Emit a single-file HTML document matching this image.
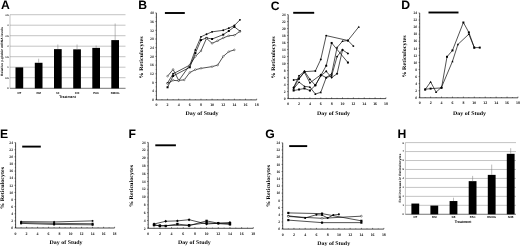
<!DOCTYPE html>
<html><head><meta charset="utf-8"><title>Figure</title>
<style>html,body{margin:0;padding:0;background:#fff}svg{display:block}</style></head>
<body><svg width="520" height="246" viewBox="0 0 520 246">
<rect width="520" height="246" fill="#fff"/>
<g text-rendering="geometricPrecision" filter="url(#bl)">
<text x="0.90" y="9.10" font-family='"Liberation Sans", sans-serif' font-size="12.2" font-weight="bold" text-anchor="start" fill="#000" opacity="1">A</text>
<line x1="10" x2="125.5" y1="14.70" y2="14.70" stroke="#aaa" stroke-width="0.7"/>
<text x="8.70" y="15.60" font-family='"Liberation Sans", sans-serif' font-size="2.5" font-weight="bold" text-anchor="end" fill="#000" opacity="1">3.5</text>
<line x1="10" x2="125.5" y1="25.20" y2="25.20" stroke="#aaa" stroke-width="0.7"/>
<text x="8.70" y="26.10" font-family='"Liberation Sans", sans-serif' font-size="2.5" font-weight="bold" text-anchor="end" fill="#000" opacity="1">3</text>
<line x1="10" x2="125.5" y1="35.70" y2="35.70" stroke="#aaa" stroke-width="0.7"/>
<text x="8.70" y="36.60" font-family='"Liberation Sans", sans-serif' font-size="2.5" font-weight="bold" text-anchor="end" fill="#000" opacity="1">2.5</text>
<line x1="10" x2="125.5" y1="46.20" y2="46.20" stroke="#aaa" stroke-width="0.7"/>
<text x="8.70" y="47.10" font-family='"Liberation Sans", sans-serif' font-size="2.5" font-weight="bold" text-anchor="end" fill="#000" opacity="1">2</text>
<line x1="10" x2="125.5" y1="56.70" y2="56.70" stroke="#aaa" stroke-width="0.7"/>
<text x="8.70" y="57.60" font-family='"Liberation Sans", sans-serif' font-size="2.5" font-weight="bold" text-anchor="end" fill="#000" opacity="1">1.5</text>
<line x1="10" x2="125.5" y1="67.20" y2="67.20" stroke="#aaa" stroke-width="0.7"/>
<text x="8.70" y="68.10" font-family='"Liberation Sans", sans-serif' font-size="2.5" font-weight="bold" text-anchor="end" fill="#000" opacity="1">1</text>
<line x1="10" x2="125.5" y1="77.70" y2="77.70" stroke="#aaa" stroke-width="0.7"/>
<text x="8.70" y="78.60" font-family='"Liberation Sans", sans-serif' font-size="2.5" font-weight="bold" text-anchor="end" fill="#000" opacity="1">0.5</text>
<line x1="10" x2="125.5" y1="88.20" y2="88.20" stroke="#aaa" stroke-width="0.7"/>
<text x="8.70" y="89.10" font-family='"Liberation Sans", sans-serif' font-size="2.5" font-weight="bold" text-anchor="end" fill="#000" opacity="1">0</text>
<line x1="10" x2="10" y1="14.70" y2="88.40" stroke="#8a8a8a" stroke-width="0.5"/>
<line x1="10" x2="125.5" y1="88.40" y2="88.40" stroke="#555" stroke-width="0.6"/>
<rect x="15.50" y="67.40" width="7.7" height="21.00" fill="#000"/>
<text x="19.35" y="93.60" font-family='"Liberation Sans", sans-serif' font-size="2.8" font-weight="bold" text-anchor="middle" fill="#000" opacity="1">NT</text>
<rect x="34.80" y="62.78" width="7.7" height="25.62" fill="#000"/>
<line x1="38.65" x2="38.65" y1="58.70" y2="62.78" stroke="#777" stroke-width="0.5"/>
<text x="38.65" y="93.60" font-family='"Liberation Sans", sans-serif' font-size="2.8" font-weight="bold" text-anchor="middle" fill="#000" opacity="1">DM</text>
<rect x="54.00" y="49.13" width="7.7" height="39.27" fill="#000"/>
<line x1="57.85" x2="57.85" y1="44.50" y2="49.13" stroke="#777" stroke-width="0.5"/>
<text x="57.85" y="93.60" font-family='"Liberation Sans", sans-serif' font-size="2.8" font-weight="bold" text-anchor="middle" fill="#000" opacity="1">50</text>
<rect x="73.20" y="49.34" width="7.7" height="39.06" fill="#000"/>
<line x1="77.05" x2="77.05" y1="44.50" y2="49.34" stroke="#777" stroke-width="0.5"/>
<text x="77.05" y="93.60" font-family='"Liberation Sans", sans-serif' font-size="2.8" font-weight="bold" text-anchor="middle" fill="#000" opacity="1">100</text>
<rect x="92.30" y="47.87" width="7.7" height="40.53" fill="#000"/>
<line x1="96.15" x2="96.15" y1="45.50" y2="47.87" stroke="#777" stroke-width="0.5"/>
<text x="96.15" y="93.60" font-family='"Liberation Sans", sans-serif' font-size="2.8" font-weight="bold" text-anchor="middle" fill="#000" opacity="1">PAC</text>
<rect x="111.30" y="40.10" width="7.7" height="48.30" fill="#000"/>
<line x1="115.15" x2="115.15" y1="23.50" y2="40.10" stroke="#777" stroke-width="0.5"/>
<text x="115.15" y="93.60" font-family='"Liberation Sans", sans-serif' font-size="2.8" font-weight="bold" text-anchor="middle" fill="#000" opacity="1">DMOG</text>
<text x="67.50" y="97.60" font-family='"Liberation Sans", sans-serif' font-size="3.5" font-weight="bold" text-anchor="middle" fill="#000" opacity="1">Treatment</text>
<text x="3.15" y="51.50" font-family='"Liberation Sans", sans-serif' font-size="3.2" font-weight="bold" text-anchor="middle" fill="#000" opacity="1" transform="rotate(-90 3.15 51.50)" textLength="48.9" lengthAdjust="spacingAndGlyphs">Relative γ-globin mRNA levels</text>
<text x="397.40" y="137.70" font-family='"Liberation Sans", sans-serif' font-size="12.2" font-weight="bold" text-anchor="start" fill="#000" opacity="1">H</text>
<line x1="405.4" x2="516" y1="142.60" y2="142.60" stroke="#aaa" stroke-width="0.7"/>
<text x="403.80" y="143.50" font-family='"Liberation Sans", sans-serif' font-size="2.5" font-weight="bold" text-anchor="end" fill="#000" opacity="1">8</text>
<line x1="405.4" x2="516" y1="151.56" y2="151.56" stroke="#aaa" stroke-width="0.7"/>
<text x="403.80" y="152.46" font-family='"Liberation Sans", sans-serif' font-size="2.5" font-weight="bold" text-anchor="end" fill="#000" opacity="1">7</text>
<line x1="405.4" x2="516" y1="160.52" y2="160.52" stroke="#aaa" stroke-width="0.7"/>
<text x="403.80" y="161.42" font-family='"Liberation Sans", sans-serif' font-size="2.5" font-weight="bold" text-anchor="end" fill="#000" opacity="1">6</text>
<line x1="405.4" x2="516" y1="169.48" y2="169.48" stroke="#aaa" stroke-width="0.7"/>
<text x="403.80" y="170.38" font-family='"Liberation Sans", sans-serif' font-size="2.5" font-weight="bold" text-anchor="end" fill="#000" opacity="1">5</text>
<line x1="405.4" x2="516" y1="178.44" y2="178.44" stroke="#aaa" stroke-width="0.7"/>
<text x="403.80" y="179.34" font-family='"Liberation Sans", sans-serif' font-size="2.5" font-weight="bold" text-anchor="end" fill="#000" opacity="1">4</text>
<line x1="405.4" x2="516" y1="187.40" y2="187.40" stroke="#aaa" stroke-width="0.7"/>
<text x="403.80" y="188.30" font-family='"Liberation Sans", sans-serif' font-size="2.5" font-weight="bold" text-anchor="end" fill="#000" opacity="1">3</text>
<line x1="405.4" x2="516" y1="196.36" y2="196.36" stroke="#aaa" stroke-width="0.7"/>
<text x="403.80" y="197.26" font-family='"Liberation Sans", sans-serif' font-size="2.5" font-weight="bold" text-anchor="end" fill="#000" opacity="1">2</text>
<line x1="405.4" x2="516" y1="205.32" y2="205.32" stroke="#aaa" stroke-width="0.7"/>
<text x="403.80" y="206.22" font-family='"Liberation Sans", sans-serif' font-size="2.5" font-weight="bold" text-anchor="end" fill="#000" opacity="1">1</text>
<line x1="405.4" x2="516" y1="214.28" y2="214.28" stroke="#aaa" stroke-width="0.7"/>
<text x="403.80" y="215.18" font-family='"Liberation Sans", sans-serif' font-size="2.5" font-weight="bold" text-anchor="end" fill="#000" opacity="1">0</text>
<line x1="405.4" x2="405.4" y1="142.60" y2="214.30" stroke="#8a8a8a" stroke-width="0.5"/>
<line x1="405.4" x2="516" y1="214.30" y2="214.30" stroke="#555" stroke-width="0.6"/>
<rect x="411.40" y="203.55" width="7.8" height="10.75" fill="#000"/>
<text x="415.30" y="218.30" font-family='"Liberation Sans", sans-serif' font-size="2.8" font-weight="bold" text-anchor="middle" fill="#000" opacity="1">NT</text>
<rect x="430.40" y="205.61" width="7.8" height="8.69" fill="#000"/>
<text x="434.30" y="218.30" font-family='"Liberation Sans", sans-serif' font-size="2.8" font-weight="bold" text-anchor="middle" fill="#000" opacity="1">DM</text>
<rect x="449.60" y="201.04" width="7.8" height="13.26" fill="#000"/>
<line x1="453.50" x2="453.50" y1="197.70" y2="201.04" stroke="#777" stroke-width="0.5"/>
<text x="453.50" y="218.30" font-family='"Liberation Sans", sans-serif' font-size="2.8" font-weight="bold" text-anchor="middle" fill="#000" opacity="1">SB</text>
<rect x="468.70" y="181.15" width="7.8" height="33.15" fill="#000"/>
<line x1="472.60" x2="472.60" y1="175.90" y2="181.15" stroke="#777" stroke-width="0.5"/>
<text x="472.60" y="218.30" font-family='"Liberation Sans", sans-serif' font-size="2.8" font-weight="bold" text-anchor="middle" fill="#000" opacity="1">PAC</text>
<rect x="487.80" y="174.88" width="7.8" height="39.42" fill="#000"/>
<line x1="491.70" x2="491.70" y1="164.60" y2="174.88" stroke="#777" stroke-width="0.5"/>
<text x="491.70" y="218.30" font-family='"Liberation Sans", sans-serif' font-size="2.8" font-weight="bold" text-anchor="middle" fill="#000" opacity="1">DMOG</text>
<rect x="506.80" y="153.82" width="7.8" height="60.48" fill="#000"/>
<line x1="510.70" x2="510.70" y1="148.20" y2="153.82" stroke="#777" stroke-width="0.5"/>
<text x="510.70" y="218.30" font-family='"Liberation Sans", sans-serif' font-size="2.8" font-weight="bold" text-anchor="middle" fill="#000" opacity="1">SHB</text>
<text x="463.00" y="223.40" font-family='"Liberation Sans", sans-serif' font-size="3.5" font-weight="bold" text-anchor="middle" fill="#000" opacity="1">Treatment</text>
<text x="400.85" y="178.10" font-family='"Liberation Sans", sans-serif' font-size="3.2" font-weight="bold" text-anchor="middle" fill="#000" opacity="1" transform="rotate(-90 400.85 178.10)" textLength="48.8" lengthAdjust="spacingAndGlyphs">Fold increase in Reticulocytes</text>
<text x="138.20" y="9.20" font-family='"Liberation Sans", sans-serif' font-size="12.2" font-weight="bold" text-anchor="start" fill="#000" opacity="1">B</text>
<line x1="156.40" x2="156.40" y1="12.90" y2="99.90" stroke="#000" stroke-width="0.7"/>
<line x1="156.40" x2="256.66" y1="99.90" y2="99.90" stroke="#000" stroke-width="0.7"/>
<line x1="155.30" x2="156.40" y1="99.90" y2="99.90" stroke="#000" stroke-width="0.5"/>
<text x="153.80" y="101.10" font-family='"Liberation Serif", serif' font-size="3.7" font-weight="bold" text-anchor="end" fill="#111" opacity="1">0</text>
<line x1="155.70" x2="156.40" y1="95.55" y2="95.55" stroke="#000" stroke-width="0.4"/>
<line x1="155.30" x2="156.40" y1="91.20" y2="91.20" stroke="#000" stroke-width="0.5"/>
<text x="153.80" y="92.40" font-family='"Liberation Serif", serif' font-size="3.7" font-weight="bold" text-anchor="end" fill="#111" opacity="1">4</text>
<line x1="155.70" x2="156.40" y1="86.85" y2="86.85" stroke="#000" stroke-width="0.4"/>
<line x1="155.30" x2="156.40" y1="82.50" y2="82.50" stroke="#000" stroke-width="0.5"/>
<text x="153.80" y="83.70" font-family='"Liberation Serif", serif' font-size="3.7" font-weight="bold" text-anchor="end" fill="#111" opacity="1">8</text>
<line x1="155.70" x2="156.40" y1="78.15" y2="78.15" stroke="#000" stroke-width="0.4"/>
<line x1="155.30" x2="156.40" y1="73.80" y2="73.80" stroke="#000" stroke-width="0.5"/>
<text x="153.80" y="75.00" font-family='"Liberation Serif", serif' font-size="3.7" font-weight="bold" text-anchor="end" fill="#111" opacity="1">12</text>
<line x1="155.70" x2="156.40" y1="69.45" y2="69.45" stroke="#000" stroke-width="0.4"/>
<line x1="155.30" x2="156.40" y1="65.10" y2="65.10" stroke="#000" stroke-width="0.5"/>
<text x="153.80" y="66.30" font-family='"Liberation Serif", serif' font-size="3.7" font-weight="bold" text-anchor="end" fill="#111" opacity="1">16</text>
<line x1="155.70" x2="156.40" y1="60.75" y2="60.75" stroke="#000" stroke-width="0.4"/>
<line x1="155.30" x2="156.40" y1="56.40" y2="56.40" stroke="#000" stroke-width="0.5"/>
<text x="153.80" y="57.60" font-family='"Liberation Serif", serif' font-size="3.7" font-weight="bold" text-anchor="end" fill="#111" opacity="1">20</text>
<line x1="155.70" x2="156.40" y1="52.05" y2="52.05" stroke="#000" stroke-width="0.4"/>
<line x1="155.30" x2="156.40" y1="47.70" y2="47.70" stroke="#000" stroke-width="0.5"/>
<text x="153.80" y="48.90" font-family='"Liberation Serif", serif' font-size="3.7" font-weight="bold" text-anchor="end" fill="#111" opacity="1">24</text>
<line x1="155.70" x2="156.40" y1="43.35" y2="43.35" stroke="#000" stroke-width="0.4"/>
<line x1="155.30" x2="156.40" y1="39.00" y2="39.00" stroke="#000" stroke-width="0.5"/>
<text x="153.80" y="40.20" font-family='"Liberation Serif", serif' font-size="3.7" font-weight="bold" text-anchor="end" fill="#111" opacity="1">28</text>
<line x1="155.70" x2="156.40" y1="34.65" y2="34.65" stroke="#000" stroke-width="0.4"/>
<line x1="155.30" x2="156.40" y1="30.30" y2="30.30" stroke="#000" stroke-width="0.5"/>
<text x="153.80" y="31.50" font-family='"Liberation Serif", serif' font-size="3.7" font-weight="bold" text-anchor="end" fill="#111" opacity="1">32</text>
<line x1="155.70" x2="156.40" y1="25.95" y2="25.95" stroke="#000" stroke-width="0.4"/>
<line x1="155.30" x2="156.40" y1="21.60" y2="21.60" stroke="#000" stroke-width="0.5"/>
<text x="153.80" y="22.80" font-family='"Liberation Serif", serif' font-size="3.7" font-weight="bold" text-anchor="end" fill="#111" opacity="1">36</text>
<line x1="155.70" x2="156.40" y1="17.25" y2="17.25" stroke="#000" stroke-width="0.4"/>
<line x1="155.30" x2="156.40" y1="12.90" y2="12.90" stroke="#000" stroke-width="0.5"/>
<text x="153.80" y="14.10" font-family='"Liberation Serif", serif' font-size="3.7" font-weight="bold" text-anchor="end" fill="#111" opacity="1">40</text>
<line x1="156.40" x2="156.40" y1="99.90" y2="98.70" stroke="#000" stroke-width="0.5"/>
<text x="156.40" y="105.60" font-family='"Liberation Serif", serif' font-size="3.9" font-weight="bold" text-anchor="middle" fill="#111" opacity="1">0</text>
<line x1="161.97" x2="161.97" y1="99.90" y2="99.10" stroke="#000" stroke-width="0.4"/>
<line x1="167.54" x2="167.54" y1="99.90" y2="98.70" stroke="#000" stroke-width="0.5"/>
<text x="167.54" y="105.60" font-family='"Liberation Serif", serif' font-size="3.9" font-weight="bold" text-anchor="middle" fill="#111" opacity="1">2</text>
<line x1="173.11" x2="173.11" y1="99.90" y2="99.10" stroke="#000" stroke-width="0.4"/>
<line x1="178.68" x2="178.68" y1="99.90" y2="98.70" stroke="#000" stroke-width="0.5"/>
<text x="178.68" y="105.60" font-family='"Liberation Serif", serif' font-size="3.9" font-weight="bold" text-anchor="middle" fill="#111" opacity="1">4</text>
<line x1="184.25" x2="184.25" y1="99.90" y2="99.10" stroke="#000" stroke-width="0.4"/>
<line x1="189.82" x2="189.82" y1="99.90" y2="98.70" stroke="#000" stroke-width="0.5"/>
<text x="189.82" y="105.60" font-family='"Liberation Serif", serif' font-size="3.9" font-weight="bold" text-anchor="middle" fill="#111" opacity="1">6</text>
<line x1="195.39" x2="195.39" y1="99.90" y2="99.10" stroke="#000" stroke-width="0.4"/>
<line x1="200.96" x2="200.96" y1="99.90" y2="98.70" stroke="#000" stroke-width="0.5"/>
<text x="200.96" y="105.60" font-family='"Liberation Serif", serif' font-size="3.9" font-weight="bold" text-anchor="middle" fill="#111" opacity="1">8</text>
<line x1="206.53" x2="206.53" y1="99.90" y2="99.10" stroke="#000" stroke-width="0.4"/>
<line x1="212.10" x2="212.10" y1="99.90" y2="98.70" stroke="#000" stroke-width="0.5"/>
<text x="212.10" y="105.60" font-family='"Liberation Serif", serif' font-size="3.9" font-weight="bold" text-anchor="middle" fill="#111" opacity="1">10</text>
<line x1="217.67" x2="217.67" y1="99.90" y2="99.10" stroke="#000" stroke-width="0.4"/>
<line x1="223.24" x2="223.24" y1="99.90" y2="98.70" stroke="#000" stroke-width="0.5"/>
<text x="223.24" y="105.60" font-family='"Liberation Serif", serif' font-size="3.9" font-weight="bold" text-anchor="middle" fill="#111" opacity="1">12</text>
<line x1="228.81" x2="228.81" y1="99.90" y2="99.10" stroke="#000" stroke-width="0.4"/>
<line x1="234.38" x2="234.38" y1="99.90" y2="98.70" stroke="#000" stroke-width="0.5"/>
<text x="234.38" y="105.60" font-family='"Liberation Serif", serif' font-size="3.9" font-weight="bold" text-anchor="middle" fill="#111" opacity="1">14</text>
<line x1="239.95" x2="239.95" y1="99.90" y2="99.10" stroke="#000" stroke-width="0.4"/>
<line x1="245.52" x2="245.52" y1="99.90" y2="98.70" stroke="#000" stroke-width="0.5"/>
<text x="245.52" y="105.60" font-family='"Liberation Serif", serif' font-size="3.9" font-weight="bold" text-anchor="middle" fill="#111" opacity="1">16</text>
<line x1="251.09" x2="251.09" y1="99.90" y2="99.10" stroke="#000" stroke-width="0.4"/>
<line x1="256.66" x2="256.66" y1="99.90" y2="98.70" stroke="#000" stroke-width="0.5"/>
<text x="256.66" y="105.60" font-family='"Liberation Serif", serif' font-size="3.9" font-weight="bold" text-anchor="middle" fill="#111" opacity="1">18</text>
<text x="202.00" y="114.50" font-family='"Liberation Serif", serif' font-size="5.5" font-weight="bold" text-anchor="middle" fill="#000" opacity="1" textLength="32.8" lengthAdjust="spacingAndGlyphs">Day of Study</text>
<text x="142.90" y="57.40" font-family='"Liberation Serif", serif' font-size="5.5" font-weight="bold" text-anchor="middle" fill="#000" opacity="1" transform="rotate(-90 142.90 57.40)" textLength="42" lengthAdjust="spacingAndGlyphs">% Reticulocytes</text>
<line x1="164.9" x2="184.8" y1="13.0" y2="13.0" stroke="#000" stroke-width="1.9"/>
<polyline fill="none" stroke="#000" stroke-width="0.68" points="167.54,82.94 173.11,73.80 189.82,65.10 195.39,49.88 200.96,36.83 206.53,34.22 212.10,31.82 223.24,30.30 228.81,28.13 234.38,25.52 239.95,19.86"/>
<circle cx="167.54" cy="82.94" r="0.94" fill="#000"/>
<circle cx="173.11" cy="73.80" r="0.94" fill="#000"/>
<circle cx="189.82" cy="65.10" r="0.94" fill="#000"/>
<circle cx="195.39" cy="49.88" r="0.94" fill="#000"/>
<circle cx="200.96" cy="36.83" r="0.94" fill="#000"/>
<circle cx="206.53" cy="34.22" r="0.94" fill="#000"/>
<circle cx="212.10" cy="31.82" r="0.94" fill="#000"/>
<circle cx="223.24" cy="30.30" r="0.94" fill="#000"/>
<circle cx="228.81" cy="28.13" r="0.94" fill="#000"/>
<circle cx="234.38" cy="25.52" r="0.94" fill="#000"/>
<circle cx="239.95" cy="19.86" r="0.94" fill="#000"/>
<polyline fill="none" stroke="#000" stroke-width="0.68" points="167.54,87.29 173.11,75.98 189.82,67.28 195.39,53.14 200.96,40.09 206.53,37.91 212.10,39.00 223.24,34.65 228.81,30.95 234.38,26.82 239.95,31.17"/>
<rect x="166.55" y="86.30" width="1.98" height="1.98" fill="#000"/>
<rect x="172.12" y="74.99" width="1.98" height="1.98" fill="#000"/>
<rect x="188.83" y="66.29" width="1.98" height="1.98" fill="#000"/>
<rect x="194.40" y="52.15" width="1.98" height="1.98" fill="#000"/>
<rect x="199.97" y="39.10" width="1.98" height="1.98" fill="#000"/>
<rect x="205.54" y="36.92" width="1.98" height="1.98" fill="#000"/>
<rect x="211.11" y="38.01" width="1.98" height="1.98" fill="#000"/>
<rect x="222.25" y="33.66" width="1.98" height="1.98" fill="#000"/>
<rect x="227.82" y="29.96" width="1.98" height="1.98" fill="#000"/>
<rect x="233.39" y="25.83" width="1.98" height="1.98" fill="#000"/>
<rect x="238.96" y="30.18" width="1.98" height="1.98" fill="#000"/>
<polyline fill="none" stroke="#000" stroke-width="0.68" points="167.54,83.59 173.11,80.33 178.68,80.76 189.82,65.10 195.39,56.40 200.96,50.96 206.53,38.35 212.10,43.35 217.67,40.74 223.24,37.91 228.81,35.74 234.38,35.30 239.95,31.39"/>
<circle cx="167.54" cy="83.59" r="0.83" fill="#fff" stroke="#000" stroke-width="0.4"/>
<circle cx="173.11" cy="80.33" r="0.83" fill="#fff" stroke="#000" stroke-width="0.4"/>
<circle cx="178.68" cy="80.76" r="0.83" fill="#fff" stroke="#000" stroke-width="0.4"/>
<circle cx="189.82" cy="65.10" r="0.83" fill="#fff" stroke="#000" stroke-width="0.4"/>
<circle cx="195.39" cy="56.40" r="0.83" fill="#fff" stroke="#000" stroke-width="0.4"/>
<circle cx="200.96" cy="50.96" r="0.83" fill="#fff" stroke="#000" stroke-width="0.4"/>
<circle cx="206.53" cy="38.35" r="0.83" fill="#fff" stroke="#000" stroke-width="0.4"/>
<circle cx="212.10" cy="43.35" r="0.83" fill="#fff" stroke="#000" stroke-width="0.4"/>
<circle cx="217.67" cy="40.74" r="0.83" fill="#fff" stroke="#000" stroke-width="0.4"/>
<circle cx="223.24" cy="37.91" r="0.83" fill="#fff" stroke="#000" stroke-width="0.4"/>
<circle cx="228.81" cy="35.74" r="0.83" fill="#fff" stroke="#000" stroke-width="0.4"/>
<circle cx="234.38" cy="35.30" r="0.83" fill="#fff" stroke="#000" stroke-width="0.4"/>
<circle cx="239.95" cy="31.39" r="0.83" fill="#fff" stroke="#000" stroke-width="0.4"/>
<polyline fill="none" stroke="#000" stroke-width="0.68" points="167.54,76.19 173.11,69.45 178.68,80.33 184.25,79.89 189.82,72.50 195.39,69.67 200.96,68.36 212.10,66.62 217.67,65.10 223.24,56.40 228.81,51.62 234.38,49.88"/>
<circle cx="167.54" cy="76.19" r="0.83" fill="#fff" stroke="#000" stroke-width="0.4"/>
<circle cx="173.11" cy="69.45" r="0.83" fill="#fff" stroke="#000" stroke-width="0.4"/>
<circle cx="178.68" cy="80.33" r="0.83" fill="#fff" stroke="#000" stroke-width="0.4"/>
<circle cx="184.25" cy="79.89" r="0.83" fill="#fff" stroke="#000" stroke-width="0.4"/>
<circle cx="189.82" cy="72.50" r="0.83" fill="#fff" stroke="#000" stroke-width="0.4"/>
<circle cx="195.39" cy="69.67" r="0.83" fill="#fff" stroke="#000" stroke-width="0.4"/>
<circle cx="200.96" cy="68.36" r="0.83" fill="#fff" stroke="#000" stroke-width="0.4"/>
<circle cx="212.10" cy="66.62" r="0.83" fill="#fff" stroke="#000" stroke-width="0.4"/>
<circle cx="217.67" cy="65.10" r="0.83" fill="#fff" stroke="#000" stroke-width="0.4"/>
<circle cx="223.24" cy="56.40" r="0.83" fill="#fff" stroke="#000" stroke-width="0.4"/>
<circle cx="228.81" cy="51.62" r="0.83" fill="#fff" stroke="#000" stroke-width="0.4"/>
<circle cx="234.38" cy="49.88" r="0.83" fill="#fff" stroke="#000" stroke-width="0.4"/>
<text x="270.70" y="9.50" font-family='"Liberation Sans", sans-serif' font-size="12.2" font-weight="bold" text-anchor="start" fill="#000" opacity="1">C</text>
<line x1="288.20" x2="288.20" y1="14.60" y2="98.60" stroke="#000" stroke-width="0.7"/>
<line x1="288.20" x2="385.94" y1="98.60" y2="98.60" stroke="#000" stroke-width="0.7"/>
<line x1="287.10" x2="288.20" y1="98.60" y2="98.60" stroke="#000" stroke-width="0.5"/>
<text x="285.60" y="99.80" font-family='"Liberation Serif", serif' font-size="3.7" font-weight="bold" text-anchor="end" fill="#111" opacity="1">0</text>
<line x1="287.50" x2="288.20" y1="95.10" y2="95.10" stroke="#000" stroke-width="0.4"/>
<line x1="287.10" x2="288.20" y1="91.60" y2="91.60" stroke="#000" stroke-width="0.5"/>
<text x="285.60" y="92.80" font-family='"Liberation Serif", serif' font-size="3.7" font-weight="bold" text-anchor="end" fill="#111" opacity="1">2</text>
<line x1="287.50" x2="288.20" y1="88.10" y2="88.10" stroke="#000" stroke-width="0.4"/>
<line x1="287.10" x2="288.20" y1="84.60" y2="84.60" stroke="#000" stroke-width="0.5"/>
<text x="285.60" y="85.80" font-family='"Liberation Serif", serif' font-size="3.7" font-weight="bold" text-anchor="end" fill="#111" opacity="1">4</text>
<line x1="287.50" x2="288.20" y1="81.10" y2="81.10" stroke="#000" stroke-width="0.4"/>
<line x1="287.10" x2="288.20" y1="77.60" y2="77.60" stroke="#000" stroke-width="0.5"/>
<text x="285.60" y="78.80" font-family='"Liberation Serif", serif' font-size="3.7" font-weight="bold" text-anchor="end" fill="#111" opacity="1">6</text>
<line x1="287.50" x2="288.20" y1="74.10" y2="74.10" stroke="#000" stroke-width="0.4"/>
<line x1="287.10" x2="288.20" y1="70.60" y2="70.60" stroke="#000" stroke-width="0.5"/>
<text x="285.60" y="71.80" font-family='"Liberation Serif", serif' font-size="3.7" font-weight="bold" text-anchor="end" fill="#111" opacity="1">8</text>
<line x1="287.50" x2="288.20" y1="67.10" y2="67.10" stroke="#000" stroke-width="0.4"/>
<line x1="287.10" x2="288.20" y1="63.60" y2="63.60" stroke="#000" stroke-width="0.5"/>
<text x="285.60" y="64.80" font-family='"Liberation Serif", serif' font-size="3.7" font-weight="bold" text-anchor="end" fill="#111" opacity="1">10</text>
<line x1="287.50" x2="288.20" y1="60.10" y2="60.10" stroke="#000" stroke-width="0.4"/>
<line x1="287.10" x2="288.20" y1="56.60" y2="56.60" stroke="#000" stroke-width="0.5"/>
<text x="285.60" y="57.80" font-family='"Liberation Serif", serif' font-size="3.7" font-weight="bold" text-anchor="end" fill="#111" opacity="1">12</text>
<line x1="287.50" x2="288.20" y1="53.10" y2="53.10" stroke="#000" stroke-width="0.4"/>
<line x1="287.10" x2="288.20" y1="49.60" y2="49.60" stroke="#000" stroke-width="0.5"/>
<text x="285.60" y="50.80" font-family='"Liberation Serif", serif' font-size="3.7" font-weight="bold" text-anchor="end" fill="#111" opacity="1">14</text>
<line x1="287.50" x2="288.20" y1="46.10" y2="46.10" stroke="#000" stroke-width="0.4"/>
<line x1="287.10" x2="288.20" y1="42.60" y2="42.60" stroke="#000" stroke-width="0.5"/>
<text x="285.60" y="43.80" font-family='"Liberation Serif", serif' font-size="3.7" font-weight="bold" text-anchor="end" fill="#111" opacity="1">16</text>
<line x1="287.50" x2="288.20" y1="39.10" y2="39.10" stroke="#000" stroke-width="0.4"/>
<line x1="287.10" x2="288.20" y1="35.60" y2="35.60" stroke="#000" stroke-width="0.5"/>
<text x="285.60" y="36.80" font-family='"Liberation Serif", serif' font-size="3.7" font-weight="bold" text-anchor="end" fill="#111" opacity="1">18</text>
<line x1="287.50" x2="288.20" y1="32.10" y2="32.10" stroke="#000" stroke-width="0.4"/>
<line x1="287.10" x2="288.20" y1="28.60" y2="28.60" stroke="#000" stroke-width="0.5"/>
<text x="285.60" y="29.80" font-family='"Liberation Serif", serif' font-size="3.7" font-weight="bold" text-anchor="end" fill="#111" opacity="1">20</text>
<line x1="287.50" x2="288.20" y1="25.10" y2="25.10" stroke="#000" stroke-width="0.4"/>
<line x1="287.10" x2="288.20" y1="21.60" y2="21.60" stroke="#000" stroke-width="0.5"/>
<text x="285.60" y="22.80" font-family='"Liberation Serif", serif' font-size="3.7" font-weight="bold" text-anchor="end" fill="#111" opacity="1">22</text>
<line x1="287.50" x2="288.20" y1="18.10" y2="18.10" stroke="#000" stroke-width="0.4"/>
<line x1="287.10" x2="288.20" y1="14.60" y2="14.60" stroke="#000" stroke-width="0.5"/>
<text x="285.60" y="15.80" font-family='"Liberation Serif", serif' font-size="3.7" font-weight="bold" text-anchor="end" fill="#111" opacity="1">24</text>
<line x1="288.20" x2="288.20" y1="98.60" y2="97.40" stroke="#000" stroke-width="0.5"/>
<text x="288.20" y="105.40" font-family='"Liberation Serif", serif' font-size="3.9" font-weight="bold" text-anchor="middle" fill="#111" opacity="1">0</text>
<line x1="293.63" x2="293.63" y1="98.60" y2="97.80" stroke="#000" stroke-width="0.4"/>
<line x1="299.06" x2="299.06" y1="98.60" y2="97.40" stroke="#000" stroke-width="0.5"/>
<text x="299.06" y="105.40" font-family='"Liberation Serif", serif' font-size="3.9" font-weight="bold" text-anchor="middle" fill="#111" opacity="1">2</text>
<line x1="304.49" x2="304.49" y1="98.60" y2="97.80" stroke="#000" stroke-width="0.4"/>
<line x1="309.92" x2="309.92" y1="98.60" y2="97.40" stroke="#000" stroke-width="0.5"/>
<text x="309.92" y="105.40" font-family='"Liberation Serif", serif' font-size="3.9" font-weight="bold" text-anchor="middle" fill="#111" opacity="1">4</text>
<line x1="315.35" x2="315.35" y1="98.60" y2="97.80" stroke="#000" stroke-width="0.4"/>
<line x1="320.78" x2="320.78" y1="98.60" y2="97.40" stroke="#000" stroke-width="0.5"/>
<text x="320.78" y="105.40" font-family='"Liberation Serif", serif' font-size="3.9" font-weight="bold" text-anchor="middle" fill="#111" opacity="1">6</text>
<line x1="326.21" x2="326.21" y1="98.60" y2="97.80" stroke="#000" stroke-width="0.4"/>
<line x1="331.64" x2="331.64" y1="98.60" y2="97.40" stroke="#000" stroke-width="0.5"/>
<text x="331.64" y="105.40" font-family='"Liberation Serif", serif' font-size="3.9" font-weight="bold" text-anchor="middle" fill="#111" opacity="1">8</text>
<line x1="337.07" x2="337.07" y1="98.60" y2="97.80" stroke="#000" stroke-width="0.4"/>
<line x1="342.50" x2="342.50" y1="98.60" y2="97.40" stroke="#000" stroke-width="0.5"/>
<text x="342.50" y="105.40" font-family='"Liberation Serif", serif' font-size="3.9" font-weight="bold" text-anchor="middle" fill="#111" opacity="1">10</text>
<line x1="347.93" x2="347.93" y1="98.60" y2="97.80" stroke="#000" stroke-width="0.4"/>
<line x1="353.36" x2="353.36" y1="98.60" y2="97.40" stroke="#000" stroke-width="0.5"/>
<text x="353.36" y="105.40" font-family='"Liberation Serif", serif' font-size="3.9" font-weight="bold" text-anchor="middle" fill="#111" opacity="1">12</text>
<line x1="358.79" x2="358.79" y1="98.60" y2="97.80" stroke="#000" stroke-width="0.4"/>
<line x1="364.22" x2="364.22" y1="98.60" y2="97.40" stroke="#000" stroke-width="0.5"/>
<text x="364.22" y="105.40" font-family='"Liberation Serif", serif' font-size="3.9" font-weight="bold" text-anchor="middle" fill="#111" opacity="1">14</text>
<line x1="369.65" x2="369.65" y1="98.60" y2="97.80" stroke="#000" stroke-width="0.4"/>
<line x1="375.08" x2="375.08" y1="98.60" y2="97.40" stroke="#000" stroke-width="0.5"/>
<text x="375.08" y="105.40" font-family='"Liberation Serif", serif' font-size="3.9" font-weight="bold" text-anchor="middle" fill="#111" opacity="1">16</text>
<line x1="380.51" x2="380.51" y1="98.60" y2="97.80" stroke="#000" stroke-width="0.4"/>
<line x1="385.94" x2="385.94" y1="98.60" y2="97.40" stroke="#000" stroke-width="0.5"/>
<text x="385.94" y="105.40" font-family='"Liberation Serif", serif' font-size="3.9" font-weight="bold" text-anchor="middle" fill="#111" opacity="1">18</text>
<text x="333.50" y="114.50" font-family='"Liberation Serif", serif' font-size="5.5" font-weight="bold" text-anchor="middle" fill="#000" opacity="1" textLength="32.8" lengthAdjust="spacingAndGlyphs">Day of Study</text>
<text x="275.00" y="57.40" font-family='"Liberation Serif", serif' font-size="5.5" font-weight="bold" text-anchor="middle" fill="#000" opacity="1" transform="rotate(-90 275.00 57.40)" textLength="42" lengthAdjust="spacingAndGlyphs">% Reticulocytes</text>
<line x1="293.2" x2="314.2" y1="12.8" y2="12.8" stroke="#000" stroke-width="1.9"/>
<polyline fill="none" stroke="#000" stroke-width="0.68" points="293.63,80.05 299.06,79.00 304.49,71.65 315.35,70.95 320.78,59.40 326.21,35.60 347.93,40.50 353.36,46.10"/>
<circle cx="293.63" cy="80.05" r="0.94" fill="#000"/>
<circle cx="299.06" cy="79.00" r="0.94" fill="#000"/>
<circle cx="304.49" cy="71.65" r="0.94" fill="#000"/>
<circle cx="315.35" cy="70.95" r="0.94" fill="#000"/>
<circle cx="320.78" cy="59.40" r="0.94" fill="#000"/>
<circle cx="326.21" cy="35.60" r="0.94" fill="#000"/>
<circle cx="347.93" cy="40.50" r="0.94" fill="#000"/>
<circle cx="353.36" cy="46.10" r="0.94" fill="#000"/>
<polyline fill="none" stroke="#000" stroke-width="0.68" points="293.63,87.40 299.06,75.85 304.49,71.30 309.92,79.35 315.35,85.30 320.78,75.85 326.21,71.30 331.64,77.60 337.07,73.75 342.50,49.95 347.93,53.45"/>
<path d="M293.63 86.19L294.84 87.40L293.63 88.61L292.42 87.40Z" fill="#000"/>
<path d="M299.06 74.64L300.27 75.85L299.06 77.06L297.85 75.85Z" fill="#000"/>
<path d="M304.49 70.09L305.70 71.30L304.49 72.51L303.28 71.30Z" fill="#000"/>
<path d="M309.92 78.14L311.13 79.35L309.92 80.56L308.71 79.35Z" fill="#000"/>
<path d="M315.35 84.09L316.56 85.30L315.35 86.51L314.14 85.30Z" fill="#000"/>
<path d="M320.78 74.64L321.99 75.85L320.78 77.06L319.57 75.85Z" fill="#000"/>
<path d="M326.21 70.09L327.42 71.30L326.21 72.51L325.00 71.30Z" fill="#000"/>
<path d="M331.64 76.39L332.85 77.60L331.64 78.81L330.43 77.60Z" fill="#000"/>
<path d="M337.07 72.54L338.28 73.75L337.07 74.96L335.86 73.75Z" fill="#000"/>
<path d="M342.50 48.74L343.71 49.95L342.50 51.16L341.29 49.95Z" fill="#000"/>
<path d="M347.93 52.24L349.14 53.45L347.93 54.66L346.72 53.45Z" fill="#000"/>
<polyline fill="none" stroke="#000" stroke-width="0.68" points="293.63,88.80 299.06,82.15 304.49,86.35 309.92,87.05 315.35,94.05 320.78,92.30 326.21,77.60 331.64,73.75 337.07,47.50 342.50,41.20 347.93,40.50 358.79,26.85"/>
<path d="M293.63 87.59L294.73 89.68L292.53 89.68Z" fill="#000"/>
<path d="M299.06 80.94L300.16 83.03L297.96 83.03Z" fill="#000"/>
<path d="M304.49 85.14L305.59 87.23L303.39 87.23Z" fill="#000"/>
<path d="M309.92 85.84L311.02 87.93L308.82 87.93Z" fill="#000"/>
<path d="M315.35 92.84L316.45 94.93L314.25 94.93Z" fill="#000"/>
<path d="M320.78 91.09L321.88 93.18L319.68 93.18Z" fill="#000"/>
<path d="M326.21 76.39L327.31 78.48L325.11 78.48Z" fill="#000"/>
<path d="M331.64 72.54L332.74 74.63L330.54 74.63Z" fill="#000"/>
<path d="M337.07 46.29L338.17 48.38L335.97 48.38Z" fill="#000"/>
<path d="M342.50 39.99L343.60 42.08L341.40 42.08Z" fill="#000"/>
<path d="M347.93 39.29L349.03 41.38L346.83 41.38Z" fill="#000"/>
<path d="M358.79 25.64L359.89 27.73L357.69 27.73Z" fill="#000"/>
<polyline fill="none" stroke="#000" stroke-width="0.68" points="293.63,90.55 299.06,89.50 304.49,88.45 309.92,90.55 315.35,85.30 326.21,65.70 331.64,42.95 347.93,62.55"/>
<rect x="292.64" y="89.56" width="1.98" height="1.98" fill="#000"/>
<rect x="298.07" y="88.51" width="1.98" height="1.98" fill="#000"/>
<rect x="303.50" y="87.46" width="1.98" height="1.98" fill="#000"/>
<rect x="308.93" y="89.56" width="1.98" height="1.98" fill="#000"/>
<rect x="314.36" y="84.31" width="1.98" height="1.98" fill="#000"/>
<rect x="325.22" y="64.71" width="1.98" height="1.98" fill="#000"/>
<rect x="330.65" y="41.96" width="1.98" height="1.98" fill="#000"/>
<rect x="346.94" y="61.56" width="1.98" height="1.98" fill="#000"/>
<polyline fill="none" stroke="#000" stroke-width="0.68" points="293.63,88.10 299.06,78.30 304.49,72.35 309.92,82.85 320.78,74.80 326.21,77.60 331.64,75.85 337.07,56.60 342.50,49.60"/>
<circle cx="293.63" cy="88.10" r="0.94" fill="#000"/>
<circle cx="299.06" cy="78.30" r="0.94" fill="#000"/>
<circle cx="304.49" cy="72.35" r="0.94" fill="#000"/>
<circle cx="309.92" cy="82.85" r="0.94" fill="#000"/>
<circle cx="320.78" cy="74.80" r="0.94" fill="#000"/>
<circle cx="326.21" cy="77.60" r="0.94" fill="#000"/>
<circle cx="331.64" cy="75.85" r="0.94" fill="#000"/>
<circle cx="337.07" cy="56.60" r="0.94" fill="#000"/>
<circle cx="342.50" cy="49.60" r="0.94" fill="#000"/>
<text x="401.30" y="9.20" font-family='"Liberation Sans", sans-serif' font-size="12.2" font-weight="bold" text-anchor="start" fill="#000" opacity="1">D</text>
<line x1="419.70" x2="419.70" y1="12.95" y2="97.80" stroke="#000" stroke-width="0.7"/>
<line x1="419.70" x2="517.98" y1="97.80" y2="97.80" stroke="#000" stroke-width="0.7"/>
<line x1="418.60" x2="419.70" y1="97.80" y2="97.80" stroke="#000" stroke-width="0.5"/>
<text x="417.10" y="99.00" font-family='"Liberation Serif", serif' font-size="3.7" font-weight="bold" text-anchor="end" fill="#111" opacity="1">0</text>
<line x1="419.00" x2="419.70" y1="94.26" y2="94.26" stroke="#000" stroke-width="0.4"/>
<line x1="418.60" x2="419.70" y1="90.73" y2="90.73" stroke="#000" stroke-width="0.5"/>
<text x="417.10" y="91.93" font-family='"Liberation Serif", serif' font-size="3.7" font-weight="bold" text-anchor="end" fill="#111" opacity="1">2</text>
<line x1="419.00" x2="419.70" y1="87.19" y2="87.19" stroke="#000" stroke-width="0.4"/>
<line x1="418.60" x2="419.70" y1="83.66" y2="83.66" stroke="#000" stroke-width="0.5"/>
<text x="417.10" y="84.86" font-family='"Liberation Serif", serif' font-size="3.7" font-weight="bold" text-anchor="end" fill="#111" opacity="1">4</text>
<line x1="419.00" x2="419.70" y1="80.12" y2="80.12" stroke="#000" stroke-width="0.4"/>
<line x1="418.60" x2="419.70" y1="76.59" y2="76.59" stroke="#000" stroke-width="0.5"/>
<text x="417.10" y="77.79" font-family='"Liberation Serif", serif' font-size="3.7" font-weight="bold" text-anchor="end" fill="#111" opacity="1">6</text>
<line x1="419.00" x2="419.70" y1="73.05" y2="73.05" stroke="#000" stroke-width="0.4"/>
<line x1="418.60" x2="419.70" y1="69.52" y2="69.52" stroke="#000" stroke-width="0.5"/>
<text x="417.10" y="70.72" font-family='"Liberation Serif", serif' font-size="3.7" font-weight="bold" text-anchor="end" fill="#111" opacity="1">8</text>
<line x1="419.00" x2="419.70" y1="65.98" y2="65.98" stroke="#000" stroke-width="0.4"/>
<line x1="418.60" x2="419.70" y1="62.45" y2="62.45" stroke="#000" stroke-width="0.5"/>
<text x="417.10" y="63.65" font-family='"Liberation Serif", serif' font-size="3.7" font-weight="bold" text-anchor="end" fill="#111" opacity="1">10</text>
<line x1="419.00" x2="419.70" y1="58.91" y2="58.91" stroke="#000" stroke-width="0.4"/>
<line x1="418.60" x2="419.70" y1="55.38" y2="55.38" stroke="#000" stroke-width="0.5"/>
<text x="417.10" y="56.58" font-family='"Liberation Serif", serif' font-size="3.7" font-weight="bold" text-anchor="end" fill="#111" opacity="1">12</text>
<line x1="419.00" x2="419.70" y1="51.84" y2="51.84" stroke="#000" stroke-width="0.4"/>
<line x1="418.60" x2="419.70" y1="48.30" y2="48.30" stroke="#000" stroke-width="0.5"/>
<text x="417.10" y="49.50" font-family='"Liberation Serif", serif' font-size="3.7" font-weight="bold" text-anchor="end" fill="#111" opacity="1">14</text>
<line x1="419.00" x2="419.70" y1="44.77" y2="44.77" stroke="#000" stroke-width="0.4"/>
<line x1="418.60" x2="419.70" y1="41.23" y2="41.23" stroke="#000" stroke-width="0.5"/>
<text x="417.10" y="42.43" font-family='"Liberation Serif", serif' font-size="3.7" font-weight="bold" text-anchor="end" fill="#111" opacity="1">16</text>
<line x1="419.00" x2="419.70" y1="37.70" y2="37.70" stroke="#000" stroke-width="0.4"/>
<line x1="418.60" x2="419.70" y1="34.16" y2="34.16" stroke="#000" stroke-width="0.5"/>
<text x="417.10" y="35.36" font-family='"Liberation Serif", serif' font-size="3.7" font-weight="bold" text-anchor="end" fill="#111" opacity="1">18</text>
<line x1="419.00" x2="419.70" y1="30.63" y2="30.63" stroke="#000" stroke-width="0.4"/>
<line x1="418.60" x2="419.70" y1="27.09" y2="27.09" stroke="#000" stroke-width="0.5"/>
<text x="417.10" y="28.29" font-family='"Liberation Serif", serif' font-size="3.7" font-weight="bold" text-anchor="end" fill="#111" opacity="1">20</text>
<line x1="419.00" x2="419.70" y1="23.56" y2="23.56" stroke="#000" stroke-width="0.4"/>
<line x1="418.60" x2="419.70" y1="20.02" y2="20.02" stroke="#000" stroke-width="0.5"/>
<text x="417.10" y="21.22" font-family='"Liberation Serif", serif' font-size="3.7" font-weight="bold" text-anchor="end" fill="#111" opacity="1">22</text>
<line x1="419.00" x2="419.70" y1="16.49" y2="16.49" stroke="#000" stroke-width="0.4"/>
<line x1="418.60" x2="419.70" y1="12.95" y2="12.95" stroke="#000" stroke-width="0.5"/>
<text x="417.10" y="14.15" font-family='"Liberation Serif", serif' font-size="3.7" font-weight="bold" text-anchor="end" fill="#111" opacity="1">24</text>
<line x1="419.70" x2="419.70" y1="97.80" y2="96.60" stroke="#000" stroke-width="0.5"/>
<text x="419.70" y="104.40" font-family='"Liberation Serif", serif' font-size="3.9" font-weight="bold" text-anchor="middle" fill="#111" opacity="1">0</text>
<line x1="425.16" x2="425.16" y1="97.80" y2="97.00" stroke="#000" stroke-width="0.4"/>
<line x1="430.62" x2="430.62" y1="97.80" y2="96.60" stroke="#000" stroke-width="0.5"/>
<text x="430.62" y="104.40" font-family='"Liberation Serif", serif' font-size="3.9" font-weight="bold" text-anchor="middle" fill="#111" opacity="1">2</text>
<line x1="436.08" x2="436.08" y1="97.80" y2="97.00" stroke="#000" stroke-width="0.4"/>
<line x1="441.54" x2="441.54" y1="97.80" y2="96.60" stroke="#000" stroke-width="0.5"/>
<text x="441.54" y="104.40" font-family='"Liberation Serif", serif' font-size="3.9" font-weight="bold" text-anchor="middle" fill="#111" opacity="1">4</text>
<line x1="447.00" x2="447.00" y1="97.80" y2="97.00" stroke="#000" stroke-width="0.4"/>
<line x1="452.46" x2="452.46" y1="97.80" y2="96.60" stroke="#000" stroke-width="0.5"/>
<text x="452.46" y="104.40" font-family='"Liberation Serif", serif' font-size="3.9" font-weight="bold" text-anchor="middle" fill="#111" opacity="1">6</text>
<line x1="457.92" x2="457.92" y1="97.80" y2="97.00" stroke="#000" stroke-width="0.4"/>
<line x1="463.38" x2="463.38" y1="97.80" y2="96.60" stroke="#000" stroke-width="0.5"/>
<text x="463.38" y="104.40" font-family='"Liberation Serif", serif' font-size="3.9" font-weight="bold" text-anchor="middle" fill="#111" opacity="1">8</text>
<line x1="468.84" x2="468.84" y1="97.80" y2="97.00" stroke="#000" stroke-width="0.4"/>
<line x1="474.30" x2="474.30" y1="97.80" y2="96.60" stroke="#000" stroke-width="0.5"/>
<text x="474.30" y="104.40" font-family='"Liberation Serif", serif' font-size="3.9" font-weight="bold" text-anchor="middle" fill="#111" opacity="1">10</text>
<line x1="479.76" x2="479.76" y1="97.80" y2="97.00" stroke="#000" stroke-width="0.4"/>
<line x1="485.22" x2="485.22" y1="97.80" y2="96.60" stroke="#000" stroke-width="0.5"/>
<text x="485.22" y="104.40" font-family='"Liberation Serif", serif' font-size="3.9" font-weight="bold" text-anchor="middle" fill="#111" opacity="1">12</text>
<line x1="490.68" x2="490.68" y1="97.80" y2="97.00" stroke="#000" stroke-width="0.4"/>
<line x1="496.14" x2="496.14" y1="97.80" y2="96.60" stroke="#000" stroke-width="0.5"/>
<text x="496.14" y="104.40" font-family='"Liberation Serif", serif' font-size="3.9" font-weight="bold" text-anchor="middle" fill="#111" opacity="1">14</text>
<line x1="501.60" x2="501.60" y1="97.80" y2="97.00" stroke="#000" stroke-width="0.4"/>
<line x1="507.06" x2="507.06" y1="97.80" y2="96.60" stroke="#000" stroke-width="0.5"/>
<text x="507.06" y="104.40" font-family='"Liberation Serif", serif' font-size="3.9" font-weight="bold" text-anchor="middle" fill="#111" opacity="1">16</text>
<line x1="512.52" x2="512.52" y1="97.80" y2="97.00" stroke="#000" stroke-width="0.4"/>
<line x1="517.98" x2="517.98" y1="97.80" y2="96.60" stroke="#000" stroke-width="0.5"/>
<text x="517.98" y="104.40" font-family='"Liberation Serif", serif' font-size="3.9" font-weight="bold" text-anchor="middle" fill="#111" opacity="1">18</text>
<text x="469.50" y="115.00" font-family='"Liberation Serif", serif' font-size="5.5" font-weight="bold" text-anchor="middle" fill="#000" opacity="1" textLength="32.8" lengthAdjust="spacingAndGlyphs">Day of Study</text>
<text x="406.30" y="56.50" font-family='"Liberation Serif", serif' font-size="5.5" font-weight="bold" text-anchor="middle" fill="#000" opacity="1" transform="rotate(-90 406.30 56.50)" textLength="42" lengthAdjust="spacingAndGlyphs">% Reticulocytes</text>
<line x1="428.5" x2="458.5" y1="12.5" y2="12.5" stroke="#000" stroke-width="1.9"/>
<polyline fill="none" stroke="#000" stroke-width="0.68" points="425.16,89.31 430.62,88.61 441.54,87.90 447.00,56.79 452.46,50.43 463.38,22.50 468.84,32.39 474.30,47.60 479.76,47.60"/>
<rect x="424.17" y="88.33" width="1.98" height="1.98" fill="#000"/>
<rect x="429.63" y="87.62" width="1.98" height="1.98" fill="#000"/>
<rect x="440.55" y="86.91" width="1.98" height="1.98" fill="#000"/>
<rect x="446.01" y="55.80" width="1.98" height="1.98" fill="#000"/>
<rect x="451.47" y="49.44" width="1.98" height="1.98" fill="#000"/>
<rect x="462.39" y="21.51" width="1.98" height="1.98" fill="#000"/>
<rect x="467.85" y="31.40" width="1.98" height="1.98" fill="#000"/>
<rect x="473.31" y="46.61" width="1.98" height="1.98" fill="#000"/>
<rect x="478.77" y="46.61" width="1.98" height="1.98" fill="#000"/>
<polyline fill="none" stroke="#000" stroke-width="0.68" points="425.16,89.67 430.62,81.89 436.08,92.14 441.54,87.19 452.46,61.39 457.92,44.42 468.84,34.16 474.30,47.60"/>
<path d="M425.16 88.46L426.26 90.55L424.06 90.55Z" fill="#000"/>
<path d="M430.62 80.68L431.72 82.77L429.52 82.77Z" fill="#000"/>
<path d="M436.08 90.93L437.18 93.02L434.98 93.02Z" fill="#000"/>
<path d="M441.54 85.98L442.64 88.07L440.44 88.07Z" fill="#000"/>
<path d="M452.46 60.18L453.56 62.27L451.36 62.27Z" fill="#000"/>
<path d="M457.92 43.21L459.02 45.30L456.82 45.30Z" fill="#000"/>
<path d="M468.84 32.95L469.94 35.04L467.74 35.04Z" fill="#000"/>
<path d="M474.30 46.39L475.40 48.48L473.20 48.48Z" fill="#000"/>
<text x="0.10" y="137.70" font-family='"Liberation Sans", sans-serif' font-size="12.2" font-weight="bold" text-anchor="start" fill="#000" opacity="1">E</text>
<line x1="15.60" x2="15.60" y1="142.60" y2="228.00" stroke="#000" stroke-width="0.7"/>
<line x1="15.60" x2="114.60" y1="228.00" y2="228.00" stroke="#000" stroke-width="0.7"/>
<line x1="14.50" x2="15.60" y1="228.00" y2="228.00" stroke="#000" stroke-width="0.5"/>
<text x="13.00" y="229.20" font-family='"Liberation Serif", serif' font-size="3.7" font-weight="bold" text-anchor="end" fill="#111" opacity="1">0</text>
<line x1="14.90" x2="15.60" y1="224.44" y2="224.44" stroke="#000" stroke-width="0.4"/>
<line x1="14.50" x2="15.60" y1="220.88" y2="220.88" stroke="#000" stroke-width="0.5"/>
<text x="13.00" y="222.08" font-family='"Liberation Serif", serif' font-size="3.7" font-weight="bold" text-anchor="end" fill="#111" opacity="1">2</text>
<line x1="14.90" x2="15.60" y1="217.32" y2="217.32" stroke="#000" stroke-width="0.4"/>
<line x1="14.50" x2="15.60" y1="213.77" y2="213.77" stroke="#000" stroke-width="0.5"/>
<text x="13.00" y="214.97" font-family='"Liberation Serif", serif' font-size="3.7" font-weight="bold" text-anchor="end" fill="#111" opacity="1">4</text>
<line x1="14.90" x2="15.60" y1="210.21" y2="210.21" stroke="#000" stroke-width="0.4"/>
<line x1="14.50" x2="15.60" y1="206.65" y2="206.65" stroke="#000" stroke-width="0.5"/>
<text x="13.00" y="207.85" font-family='"Liberation Serif", serif' font-size="3.7" font-weight="bold" text-anchor="end" fill="#111" opacity="1">6</text>
<line x1="14.90" x2="15.60" y1="203.09" y2="203.09" stroke="#000" stroke-width="0.4"/>
<line x1="14.50" x2="15.60" y1="199.53" y2="199.53" stroke="#000" stroke-width="0.5"/>
<text x="13.00" y="200.73" font-family='"Liberation Serif", serif' font-size="3.7" font-weight="bold" text-anchor="end" fill="#111" opacity="1">8</text>
<line x1="14.90" x2="15.60" y1="195.97" y2="195.97" stroke="#000" stroke-width="0.4"/>
<line x1="14.50" x2="15.60" y1="192.42" y2="192.42" stroke="#000" stroke-width="0.5"/>
<text x="13.00" y="193.62" font-family='"Liberation Serif", serif' font-size="3.7" font-weight="bold" text-anchor="end" fill="#111" opacity="1">10</text>
<line x1="14.90" x2="15.60" y1="188.86" y2="188.86" stroke="#000" stroke-width="0.4"/>
<line x1="14.50" x2="15.60" y1="185.30" y2="185.30" stroke="#000" stroke-width="0.5"/>
<text x="13.00" y="186.50" font-family='"Liberation Serif", serif' font-size="3.7" font-weight="bold" text-anchor="end" fill="#111" opacity="1">12</text>
<line x1="14.90" x2="15.60" y1="181.74" y2="181.74" stroke="#000" stroke-width="0.4"/>
<line x1="14.50" x2="15.60" y1="178.18" y2="178.18" stroke="#000" stroke-width="0.5"/>
<text x="13.00" y="179.38" font-family='"Liberation Serif", serif' font-size="3.7" font-weight="bold" text-anchor="end" fill="#111" opacity="1">14</text>
<line x1="14.90" x2="15.60" y1="174.62" y2="174.62" stroke="#000" stroke-width="0.4"/>
<line x1="14.50" x2="15.60" y1="171.07" y2="171.07" stroke="#000" stroke-width="0.5"/>
<text x="13.00" y="172.27" font-family='"Liberation Serif", serif' font-size="3.7" font-weight="bold" text-anchor="end" fill="#111" opacity="1">16</text>
<line x1="14.90" x2="15.60" y1="167.51" y2="167.51" stroke="#000" stroke-width="0.4"/>
<line x1="14.50" x2="15.60" y1="163.95" y2="163.95" stroke="#000" stroke-width="0.5"/>
<text x="13.00" y="165.15" font-family='"Liberation Serif", serif' font-size="3.7" font-weight="bold" text-anchor="end" fill="#111" opacity="1">18</text>
<line x1="14.90" x2="15.60" y1="160.39" y2="160.39" stroke="#000" stroke-width="0.4"/>
<line x1="14.50" x2="15.60" y1="156.83" y2="156.83" stroke="#000" stroke-width="0.5"/>
<text x="13.00" y="158.03" font-family='"Liberation Serif", serif' font-size="3.7" font-weight="bold" text-anchor="end" fill="#111" opacity="1">20</text>
<line x1="14.90" x2="15.60" y1="153.27" y2="153.27" stroke="#000" stroke-width="0.4"/>
<line x1="14.50" x2="15.60" y1="149.72" y2="149.72" stroke="#000" stroke-width="0.5"/>
<text x="13.00" y="150.92" font-family='"Liberation Serif", serif' font-size="3.7" font-weight="bold" text-anchor="end" fill="#111" opacity="1">22</text>
<line x1="14.90" x2="15.60" y1="146.16" y2="146.16" stroke="#000" stroke-width="0.4"/>
<line x1="14.50" x2="15.60" y1="142.60" y2="142.60" stroke="#000" stroke-width="0.5"/>
<text x="13.00" y="143.80" font-family='"Liberation Serif", serif' font-size="3.7" font-weight="bold" text-anchor="end" fill="#111" opacity="1">24</text>
<line x1="15.60" x2="15.60" y1="228.00" y2="226.80" stroke="#000" stroke-width="0.5"/>
<text x="15.60" y="235.00" font-family='"Liberation Serif", serif' font-size="3.9" font-weight="bold" text-anchor="middle" fill="#111" opacity="1">0</text>
<line x1="21.10" x2="21.10" y1="228.00" y2="227.20" stroke="#000" stroke-width="0.4"/>
<line x1="26.60" x2="26.60" y1="228.00" y2="226.80" stroke="#000" stroke-width="0.5"/>
<text x="26.60" y="235.00" font-family='"Liberation Serif", serif' font-size="3.9" font-weight="bold" text-anchor="middle" fill="#111" opacity="1">2</text>
<line x1="32.10" x2="32.10" y1="228.00" y2="227.20" stroke="#000" stroke-width="0.4"/>
<line x1="37.60" x2="37.60" y1="228.00" y2="226.80" stroke="#000" stroke-width="0.5"/>
<text x="37.60" y="235.00" font-family='"Liberation Serif", serif' font-size="3.9" font-weight="bold" text-anchor="middle" fill="#111" opacity="1">4</text>
<line x1="43.10" x2="43.10" y1="228.00" y2="227.20" stroke="#000" stroke-width="0.4"/>
<line x1="48.60" x2="48.60" y1="228.00" y2="226.80" stroke="#000" stroke-width="0.5"/>
<text x="48.60" y="235.00" font-family='"Liberation Serif", serif' font-size="3.9" font-weight="bold" text-anchor="middle" fill="#111" opacity="1">6</text>
<line x1="54.10" x2="54.10" y1="228.00" y2="227.20" stroke="#000" stroke-width="0.4"/>
<line x1="59.60" x2="59.60" y1="228.00" y2="226.80" stroke="#000" stroke-width="0.5"/>
<text x="59.60" y="235.00" font-family='"Liberation Serif", serif' font-size="3.9" font-weight="bold" text-anchor="middle" fill="#111" opacity="1">8</text>
<line x1="65.10" x2="65.10" y1="228.00" y2="227.20" stroke="#000" stroke-width="0.4"/>
<line x1="70.60" x2="70.60" y1="228.00" y2="226.80" stroke="#000" stroke-width="0.5"/>
<text x="70.60" y="235.00" font-family='"Liberation Serif", serif' font-size="3.9" font-weight="bold" text-anchor="middle" fill="#111" opacity="1">10</text>
<line x1="76.10" x2="76.10" y1="228.00" y2="227.20" stroke="#000" stroke-width="0.4"/>
<line x1="81.60" x2="81.60" y1="228.00" y2="226.80" stroke="#000" stroke-width="0.5"/>
<text x="81.60" y="235.00" font-family='"Liberation Serif", serif' font-size="3.9" font-weight="bold" text-anchor="middle" fill="#111" opacity="1">12</text>
<line x1="87.10" x2="87.10" y1="228.00" y2="227.20" stroke="#000" stroke-width="0.4"/>
<line x1="92.60" x2="92.60" y1="228.00" y2="226.80" stroke="#000" stroke-width="0.5"/>
<text x="92.60" y="235.00" font-family='"Liberation Serif", serif' font-size="3.9" font-weight="bold" text-anchor="middle" fill="#111" opacity="1">14</text>
<line x1="98.10" x2="98.10" y1="228.00" y2="227.20" stroke="#000" stroke-width="0.4"/>
<line x1="103.60" x2="103.60" y1="228.00" y2="226.80" stroke="#000" stroke-width="0.5"/>
<text x="103.60" y="235.00" font-family='"Liberation Serif", serif' font-size="3.9" font-weight="bold" text-anchor="middle" fill="#111" opacity="1">16</text>
<line x1="109.10" x2="109.10" y1="228.00" y2="227.20" stroke="#000" stroke-width="0.4"/>
<line x1="114.60" x2="114.60" y1="228.00" y2="226.80" stroke="#000" stroke-width="0.5"/>
<text x="114.60" y="235.00" font-family='"Liberation Serif", serif' font-size="3.9" font-weight="bold" text-anchor="middle" fill="#111" opacity="1">18</text>
<text x="66.00" y="244.20" font-family='"Liberation Serif", serif' font-size="5.5" font-weight="bold" text-anchor="middle" fill="#000" opacity="1" textLength="32.8" lengthAdjust="spacingAndGlyphs">Day of Study</text>
<text x="4.30" y="187.90" font-family='"Liberation Serif", serif' font-size="5.5" font-weight="bold" text-anchor="middle" fill="#000" opacity="1" transform="rotate(-90 4.30 187.90)" textLength="42" lengthAdjust="spacingAndGlyphs">% Reticulocytes</text>
<line x1="22.2" x2="40.8" y1="146.6" y2="146.6" stroke="#000" stroke-width="1.9"/>
<polyline fill="none" stroke="#000" stroke-width="0.68" points="21.10,221.59 54.10,221.95 92.60,220.88"/>
<path d="M21.10 220.38L22.31 221.59L21.10 222.81L19.89 221.59Z" fill="#000"/>
<path d="M54.10 220.74L55.31 221.95L54.10 223.16L52.89 221.95Z" fill="#000"/>
<path d="M92.60 219.67L93.81 220.88L92.60 222.09L91.39 220.88Z" fill="#000"/>
<polyline fill="none" stroke="#000" stroke-width="0.68" points="21.10,222.66 54.10,223.37 92.60,223.73"/>
<rect x="20.11" y="221.67" width="1.98" height="1.98" fill="#000"/>
<rect x="53.11" y="222.38" width="1.98" height="1.98" fill="#000"/>
<rect x="91.61" y="222.74" width="1.98" height="1.98" fill="#000"/>
<polyline fill="none" stroke="#000" stroke-width="0.68" points="21.10,223.37 54.10,224.44 92.60,224.80"/>
<rect x="20.11" y="222.38" width="1.98" height="1.98" fill="#000"/>
<rect x="53.11" y="223.45" width="1.98" height="1.98" fill="#000"/>
<rect x="91.61" y="223.81" width="1.98" height="1.98" fill="#000"/>
<text x="128.60" y="137.70" font-family='"Liberation Sans", sans-serif' font-size="12.2" font-weight="bold" text-anchor="start" fill="#000" opacity="1">F</text>
<line x1="148.20" x2="148.20" y1="142.40" y2="228.30" stroke="#000" stroke-width="0.7"/>
<line x1="148.20" x2="253.32" y1="228.30" y2="228.30" stroke="#000" stroke-width="0.7"/>
<line x1="147.10" x2="148.20" y1="228.30" y2="228.30" stroke="#000" stroke-width="0.5"/>
<text x="145.60" y="229.50" font-family='"Liberation Serif", serif' font-size="3.7" font-weight="bold" text-anchor="end" fill="#111" opacity="1">2</text>
<line x1="147.50" x2="148.20" y1="224.40" y2="224.40" stroke="#000" stroke-width="0.4"/>
<line x1="147.10" x2="148.20" y1="220.49" y2="220.49" stroke="#000" stroke-width="0.5"/>
<text x="145.60" y="221.69" font-family='"Liberation Serif", serif' font-size="3.7" font-weight="bold" text-anchor="end" fill="#111" opacity="1">4</text>
<line x1="147.50" x2="148.20" y1="216.59" y2="216.59" stroke="#000" stroke-width="0.4"/>
<line x1="147.10" x2="148.20" y1="212.68" y2="212.68" stroke="#000" stroke-width="0.5"/>
<text x="145.60" y="213.88" font-family='"Liberation Serif", serif' font-size="3.7" font-weight="bold" text-anchor="end" fill="#111" opacity="1">6</text>
<line x1="147.50" x2="148.20" y1="208.78" y2="208.78" stroke="#000" stroke-width="0.4"/>
<line x1="147.10" x2="148.20" y1="204.87" y2="204.87" stroke="#000" stroke-width="0.5"/>
<text x="145.60" y="206.07" font-family='"Liberation Serif", serif' font-size="3.7" font-weight="bold" text-anchor="end" fill="#111" opacity="1">8</text>
<line x1="147.50" x2="148.20" y1="200.97" y2="200.97" stroke="#000" stroke-width="0.4"/>
<line x1="147.10" x2="148.20" y1="197.06" y2="197.06" stroke="#000" stroke-width="0.5"/>
<text x="145.60" y="198.26" font-family='"Liberation Serif", serif' font-size="3.7" font-weight="bold" text-anchor="end" fill="#111" opacity="1">10</text>
<line x1="147.50" x2="148.20" y1="193.16" y2="193.16" stroke="#000" stroke-width="0.4"/>
<line x1="147.10" x2="148.20" y1="189.25" y2="189.25" stroke="#000" stroke-width="0.5"/>
<text x="145.60" y="190.45" font-family='"Liberation Serif", serif' font-size="3.7" font-weight="bold" text-anchor="end" fill="#111" opacity="1">12</text>
<line x1="147.50" x2="148.20" y1="185.35" y2="185.35" stroke="#000" stroke-width="0.4"/>
<line x1="147.10" x2="148.20" y1="181.45" y2="181.45" stroke="#000" stroke-width="0.5"/>
<text x="145.60" y="182.65" font-family='"Liberation Serif", serif' font-size="3.7" font-weight="bold" text-anchor="end" fill="#111" opacity="1">14</text>
<line x1="147.50" x2="148.20" y1="177.54" y2="177.54" stroke="#000" stroke-width="0.4"/>
<line x1="147.10" x2="148.20" y1="173.64" y2="173.64" stroke="#000" stroke-width="0.5"/>
<text x="145.60" y="174.84" font-family='"Liberation Serif", serif' font-size="3.7" font-weight="bold" text-anchor="end" fill="#111" opacity="1">16</text>
<line x1="147.50" x2="148.20" y1="169.73" y2="169.73" stroke="#000" stroke-width="0.4"/>
<line x1="147.10" x2="148.20" y1="165.83" y2="165.83" stroke="#000" stroke-width="0.5"/>
<text x="145.60" y="167.03" font-family='"Liberation Serif", serif' font-size="3.7" font-weight="bold" text-anchor="end" fill="#111" opacity="1">18</text>
<line x1="147.50" x2="148.20" y1="161.92" y2="161.92" stroke="#000" stroke-width="0.4"/>
<line x1="147.10" x2="148.20" y1="158.02" y2="158.02" stroke="#000" stroke-width="0.5"/>
<text x="145.60" y="159.22" font-family='"Liberation Serif", serif' font-size="3.7" font-weight="bold" text-anchor="end" fill="#111" opacity="1">20</text>
<line x1="147.50" x2="148.20" y1="154.11" y2="154.11" stroke="#000" stroke-width="0.4"/>
<line x1="147.10" x2="148.20" y1="150.21" y2="150.21" stroke="#000" stroke-width="0.5"/>
<text x="145.60" y="151.41" font-family='"Liberation Serif", serif' font-size="3.7" font-weight="bold" text-anchor="end" fill="#111" opacity="1">22</text>
<line x1="147.50" x2="148.20" y1="146.30" y2="146.30" stroke="#000" stroke-width="0.4"/>
<line x1="147.10" x2="148.20" y1="142.40" y2="142.40" stroke="#000" stroke-width="0.5"/>
<text x="145.60" y="143.60" font-family='"Liberation Serif", serif' font-size="3.7" font-weight="bold" text-anchor="end" fill="#111" opacity="1">24</text>
<line x1="148.20" x2="148.20" y1="228.30" y2="227.10" stroke="#000" stroke-width="0.5"/>
<text x="148.20" y="234.70" font-family='"Liberation Serif", serif' font-size="3.9" font-weight="bold" text-anchor="middle" fill="#111" opacity="1">0</text>
<line x1="154.04" x2="154.04" y1="228.30" y2="227.50" stroke="#000" stroke-width="0.4"/>
<line x1="159.88" x2="159.88" y1="228.30" y2="227.10" stroke="#000" stroke-width="0.5"/>
<text x="159.88" y="234.70" font-family='"Liberation Serif", serif' font-size="3.9" font-weight="bold" text-anchor="middle" fill="#111" opacity="1">2</text>
<line x1="165.72" x2="165.72" y1="228.30" y2="227.50" stroke="#000" stroke-width="0.4"/>
<line x1="171.56" x2="171.56" y1="228.30" y2="227.10" stroke="#000" stroke-width="0.5"/>
<text x="171.56" y="234.70" font-family='"Liberation Serif", serif' font-size="3.9" font-weight="bold" text-anchor="middle" fill="#111" opacity="1">4</text>
<line x1="177.40" x2="177.40" y1="228.30" y2="227.50" stroke="#000" stroke-width="0.4"/>
<line x1="183.24" x2="183.24" y1="228.30" y2="227.10" stroke="#000" stroke-width="0.5"/>
<text x="183.24" y="234.70" font-family='"Liberation Serif", serif' font-size="3.9" font-weight="bold" text-anchor="middle" fill="#111" opacity="1">6</text>
<line x1="189.08" x2="189.08" y1="228.30" y2="227.50" stroke="#000" stroke-width="0.4"/>
<line x1="194.92" x2="194.92" y1="228.30" y2="227.10" stroke="#000" stroke-width="0.5"/>
<text x="194.92" y="234.70" font-family='"Liberation Serif", serif' font-size="3.9" font-weight="bold" text-anchor="middle" fill="#111" opacity="1">8</text>
<line x1="200.76" x2="200.76" y1="228.30" y2="227.50" stroke="#000" stroke-width="0.4"/>
<line x1="206.60" x2="206.60" y1="228.30" y2="227.10" stroke="#000" stroke-width="0.5"/>
<text x="206.60" y="234.70" font-family='"Liberation Serif", serif' font-size="3.9" font-weight="bold" text-anchor="middle" fill="#111" opacity="1">10</text>
<line x1="212.44" x2="212.44" y1="228.30" y2="227.50" stroke="#000" stroke-width="0.4"/>
<line x1="218.28" x2="218.28" y1="228.30" y2="227.10" stroke="#000" stroke-width="0.5"/>
<text x="218.28" y="234.70" font-family='"Liberation Serif", serif' font-size="3.9" font-weight="bold" text-anchor="middle" fill="#111" opacity="1">12</text>
<line x1="224.12" x2="224.12" y1="228.30" y2="227.50" stroke="#000" stroke-width="0.4"/>
<line x1="229.96" x2="229.96" y1="228.30" y2="227.10" stroke="#000" stroke-width="0.5"/>
<text x="229.96" y="234.70" font-family='"Liberation Serif", serif' font-size="3.9" font-weight="bold" text-anchor="middle" fill="#111" opacity="1">14</text>
<line x1="235.80" x2="235.80" y1="228.30" y2="227.50" stroke="#000" stroke-width="0.4"/>
<line x1="241.64" x2="241.64" y1="228.30" y2="227.10" stroke="#000" stroke-width="0.5"/>
<text x="241.64" y="234.70" font-family='"Liberation Serif", serif' font-size="3.9" font-weight="bold" text-anchor="middle" fill="#111" opacity="1">16</text>
<line x1="247.48" x2="247.48" y1="228.30" y2="227.50" stroke="#000" stroke-width="0.4"/>
<line x1="253.32" x2="253.32" y1="228.30" y2="227.10" stroke="#000" stroke-width="0.5"/>
<text x="253.32" y="234.70" font-family='"Liberation Serif", serif' font-size="3.9" font-weight="bold" text-anchor="middle" fill="#111" opacity="1">18</text>
<text x="194.30" y="244.10" font-family='"Liberation Serif", serif' font-size="5.5" font-weight="bold" text-anchor="middle" fill="#000" opacity="1" textLength="32.8" lengthAdjust="spacingAndGlyphs">Day of Study</text>
<text x="133.30" y="186.00" font-family='"Liberation Serif", serif' font-size="5.5" font-weight="bold" text-anchor="middle" fill="#000" opacity="1" transform="rotate(-90 133.30 186.00)" textLength="42" lengthAdjust="spacingAndGlyphs">% Reticulocytes</text>
<line x1="155.3" x2="175.9" y1="145.3" y2="145.3" stroke="#000" stroke-width="1.9"/>
<polyline fill="none" stroke="#000" stroke-width="0.68" points="154.04,224.01 165.72,221.27 177.40,220.88 189.08,219.71 206.60,224.01 218.28,223.22 229.96,222.44"/>
<path d="M154.04 222.58L155.47 224.01L154.04 225.44L152.61 224.01Z" fill="#000"/>
<path d="M165.72 219.84L167.15 221.27L165.72 222.70L164.29 221.27Z" fill="#000"/>
<path d="M177.40 219.45L178.83 220.88L177.40 222.31L175.97 220.88Z" fill="#000"/>
<path d="M189.08 218.28L190.51 219.71L189.08 221.14L187.65 219.71Z" fill="#000"/>
<path d="M206.60 222.58L208.03 224.01L206.60 225.44L205.17 224.01Z" fill="#000"/>
<path d="M218.28 221.79L219.71 223.22L218.28 224.65L216.85 223.22Z" fill="#000"/>
<path d="M229.96 221.01L231.39 222.44L229.96 223.87L228.53 222.44Z" fill="#000"/>
<polyline fill="none" stroke="#000" stroke-width="0.68" points="154.04,224.79 159.88,225.96 165.72,225.96 177.40,224.01 189.08,225.57 206.60,220.88 218.28,223.22 229.96,223.61"/>
<rect x="152.87" y="223.62" width="2.34" height="2.34" fill="#000"/>
<rect x="158.71" y="224.79" width="2.34" height="2.34" fill="#000"/>
<rect x="164.55" y="224.79" width="2.34" height="2.34" fill="#000"/>
<rect x="176.23" y="222.84" width="2.34" height="2.34" fill="#000"/>
<rect x="187.91" y="224.40" width="2.34" height="2.34" fill="#000"/>
<rect x="205.43" y="219.71" width="2.34" height="2.34" fill="#000"/>
<rect x="217.11" y="222.05" width="2.34" height="2.34" fill="#000"/>
<rect x="228.79" y="222.44" width="2.34" height="2.34" fill="#000"/>
<polyline fill="none" stroke="#000" stroke-width="0.68" points="154.04,225.18 159.88,225.57 189.08,225.18 206.60,222.83 229.96,224.40"/>
<rect x="152.87" y="224.01" width="2.34" height="2.34" fill="#000"/>
<rect x="158.71" y="224.40" width="2.34" height="2.34" fill="#000"/>
<rect x="187.91" y="224.01" width="2.34" height="2.34" fill="#000"/>
<rect x="205.43" y="221.66" width="2.34" height="2.34" fill="#000"/>
<rect x="228.79" y="223.23" width="2.34" height="2.34" fill="#000"/>
<text x="265.20" y="137.90" font-family='"Liberation Sans", sans-serif' font-size="12.2" font-weight="bold" text-anchor="start" fill="#000" opacity="1">G</text>
<line x1="282.70" x2="282.70" y1="142.80" y2="229.10" stroke="#000" stroke-width="0.7"/>
<line x1="282.70" x2="383.86" y1="229.10" y2="229.10" stroke="#000" stroke-width="0.7"/>
<line x1="281.60" x2="282.70" y1="229.10" y2="229.10" stroke="#000" stroke-width="0.5"/>
<text x="280.10" y="230.30" font-family='"Liberation Serif", serif' font-size="3.7" font-weight="bold" text-anchor="end" fill="#111" opacity="1">0</text>
<line x1="282.00" x2="282.70" y1="225.50" y2="225.50" stroke="#000" stroke-width="0.4"/>
<line x1="281.60" x2="282.70" y1="221.91" y2="221.91" stroke="#000" stroke-width="0.5"/>
<text x="280.10" y="223.11" font-family='"Liberation Serif", serif' font-size="3.7" font-weight="bold" text-anchor="end" fill="#111" opacity="1">2</text>
<line x1="282.00" x2="282.70" y1="218.31" y2="218.31" stroke="#000" stroke-width="0.4"/>
<line x1="281.60" x2="282.70" y1="214.72" y2="214.72" stroke="#000" stroke-width="0.5"/>
<text x="280.10" y="215.92" font-family='"Liberation Serif", serif' font-size="3.7" font-weight="bold" text-anchor="end" fill="#111" opacity="1">4</text>
<line x1="282.00" x2="282.70" y1="211.12" y2="211.12" stroke="#000" stroke-width="0.4"/>
<line x1="281.60" x2="282.70" y1="207.53" y2="207.53" stroke="#000" stroke-width="0.5"/>
<text x="280.10" y="208.72" font-family='"Liberation Serif", serif' font-size="3.7" font-weight="bold" text-anchor="end" fill="#111" opacity="1">6</text>
<line x1="282.00" x2="282.70" y1="203.93" y2="203.93" stroke="#000" stroke-width="0.4"/>
<line x1="281.60" x2="282.70" y1="200.33" y2="200.33" stroke="#000" stroke-width="0.5"/>
<text x="280.10" y="201.53" font-family='"Liberation Serif", serif' font-size="3.7" font-weight="bold" text-anchor="end" fill="#111" opacity="1">8</text>
<line x1="282.00" x2="282.70" y1="196.74" y2="196.74" stroke="#000" stroke-width="0.4"/>
<line x1="281.60" x2="282.70" y1="193.14" y2="193.14" stroke="#000" stroke-width="0.5"/>
<text x="280.10" y="194.34" font-family='"Liberation Serif", serif' font-size="3.7" font-weight="bold" text-anchor="end" fill="#111" opacity="1">10</text>
<line x1="282.00" x2="282.70" y1="189.55" y2="189.55" stroke="#000" stroke-width="0.4"/>
<line x1="281.60" x2="282.70" y1="185.95" y2="185.95" stroke="#000" stroke-width="0.5"/>
<text x="280.10" y="187.15" font-family='"Liberation Serif", serif' font-size="3.7" font-weight="bold" text-anchor="end" fill="#111" opacity="1">12</text>
<line x1="282.00" x2="282.70" y1="182.35" y2="182.35" stroke="#000" stroke-width="0.4"/>
<line x1="281.60" x2="282.70" y1="178.76" y2="178.76" stroke="#000" stroke-width="0.5"/>
<text x="280.10" y="179.96" font-family='"Liberation Serif", serif' font-size="3.7" font-weight="bold" text-anchor="end" fill="#111" opacity="1">14</text>
<line x1="282.00" x2="282.70" y1="175.16" y2="175.16" stroke="#000" stroke-width="0.4"/>
<line x1="281.60" x2="282.70" y1="171.57" y2="171.57" stroke="#000" stroke-width="0.5"/>
<text x="280.10" y="172.77" font-family='"Liberation Serif", serif' font-size="3.7" font-weight="bold" text-anchor="end" fill="#111" opacity="1">16</text>
<line x1="282.00" x2="282.70" y1="167.97" y2="167.97" stroke="#000" stroke-width="0.4"/>
<line x1="281.60" x2="282.70" y1="164.38" y2="164.38" stroke="#000" stroke-width="0.5"/>
<text x="280.10" y="165.57" font-family='"Liberation Serif", serif' font-size="3.7" font-weight="bold" text-anchor="end" fill="#111" opacity="1">18</text>
<line x1="282.00" x2="282.70" y1="160.78" y2="160.78" stroke="#000" stroke-width="0.4"/>
<line x1="281.60" x2="282.70" y1="157.18" y2="157.18" stroke="#000" stroke-width="0.5"/>
<text x="280.10" y="158.38" font-family='"Liberation Serif", serif' font-size="3.7" font-weight="bold" text-anchor="end" fill="#111" opacity="1">20</text>
<line x1="282.00" x2="282.70" y1="153.59" y2="153.59" stroke="#000" stroke-width="0.4"/>
<line x1="281.60" x2="282.70" y1="149.99" y2="149.99" stroke="#000" stroke-width="0.5"/>
<text x="280.10" y="151.19" font-family='"Liberation Serif", serif' font-size="3.7" font-weight="bold" text-anchor="end" fill="#111" opacity="1">22</text>
<line x1="282.00" x2="282.70" y1="146.40" y2="146.40" stroke="#000" stroke-width="0.4"/>
<line x1="281.60" x2="282.70" y1="142.80" y2="142.80" stroke="#000" stroke-width="0.5"/>
<text x="280.10" y="144.00" font-family='"Liberation Serif", serif' font-size="3.7" font-weight="bold" text-anchor="end" fill="#111" opacity="1">24</text>
<line x1="282.70" x2="282.70" y1="229.10" y2="227.90" stroke="#000" stroke-width="0.5"/>
<text x="282.70" y="235.70" font-family='"Liberation Serif", serif' font-size="3.9" font-weight="bold" text-anchor="middle" fill="#111" opacity="1">0</text>
<line x1="288.32" x2="288.32" y1="229.10" y2="228.30" stroke="#000" stroke-width="0.4"/>
<line x1="293.94" x2="293.94" y1="229.10" y2="227.90" stroke="#000" stroke-width="0.5"/>
<text x="293.94" y="235.70" font-family='"Liberation Serif", serif' font-size="3.9" font-weight="bold" text-anchor="middle" fill="#111" opacity="1">2</text>
<line x1="299.56" x2="299.56" y1="229.10" y2="228.30" stroke="#000" stroke-width="0.4"/>
<line x1="305.18" x2="305.18" y1="229.10" y2="227.90" stroke="#000" stroke-width="0.5"/>
<text x="305.18" y="235.70" font-family='"Liberation Serif", serif' font-size="3.9" font-weight="bold" text-anchor="middle" fill="#111" opacity="1">4</text>
<line x1="310.80" x2="310.80" y1="229.10" y2="228.30" stroke="#000" stroke-width="0.4"/>
<line x1="316.42" x2="316.42" y1="229.10" y2="227.90" stroke="#000" stroke-width="0.5"/>
<text x="316.42" y="235.70" font-family='"Liberation Serif", serif' font-size="3.9" font-weight="bold" text-anchor="middle" fill="#111" opacity="1">6</text>
<line x1="322.04" x2="322.04" y1="229.10" y2="228.30" stroke="#000" stroke-width="0.4"/>
<line x1="327.66" x2="327.66" y1="229.10" y2="227.90" stroke="#000" stroke-width="0.5"/>
<text x="327.66" y="235.70" font-family='"Liberation Serif", serif' font-size="3.9" font-weight="bold" text-anchor="middle" fill="#111" opacity="1">8</text>
<line x1="333.28" x2="333.28" y1="229.10" y2="228.30" stroke="#000" stroke-width="0.4"/>
<line x1="338.90" x2="338.90" y1="229.10" y2="227.90" stroke="#000" stroke-width="0.5"/>
<text x="338.90" y="235.70" font-family='"Liberation Serif", serif' font-size="3.9" font-weight="bold" text-anchor="middle" fill="#111" opacity="1">10</text>
<line x1="344.52" x2="344.52" y1="229.10" y2="228.30" stroke="#000" stroke-width="0.4"/>
<line x1="350.14" x2="350.14" y1="229.10" y2="227.90" stroke="#000" stroke-width="0.5"/>
<text x="350.14" y="235.70" font-family='"Liberation Serif", serif' font-size="3.9" font-weight="bold" text-anchor="middle" fill="#111" opacity="1">12</text>
<line x1="355.76" x2="355.76" y1="229.10" y2="228.30" stroke="#000" stroke-width="0.4"/>
<line x1="361.38" x2="361.38" y1="229.10" y2="227.90" stroke="#000" stroke-width="0.5"/>
<text x="361.38" y="235.70" font-family='"Liberation Serif", serif' font-size="3.9" font-weight="bold" text-anchor="middle" fill="#111" opacity="1">14</text>
<line x1="367.00" x2="367.00" y1="229.10" y2="228.30" stroke="#000" stroke-width="0.4"/>
<line x1="372.62" x2="372.62" y1="229.10" y2="227.90" stroke="#000" stroke-width="0.5"/>
<text x="372.62" y="235.70" font-family='"Liberation Serif", serif' font-size="3.9" font-weight="bold" text-anchor="middle" fill="#111" opacity="1">16</text>
<line x1="378.24" x2="378.24" y1="229.10" y2="228.30" stroke="#000" stroke-width="0.4"/>
<line x1="383.86" x2="383.86" y1="229.10" y2="227.90" stroke="#000" stroke-width="0.5"/>
<text x="383.86" y="235.70" font-family='"Liberation Serif", serif' font-size="3.9" font-weight="bold" text-anchor="middle" fill="#111" opacity="1">18</text>
<text x="333.70" y="244.90" font-family='"Liberation Serif", serif' font-size="5.5" font-weight="bold" text-anchor="middle" fill="#000" opacity="1" textLength="32.8" lengthAdjust="spacingAndGlyphs">Day of Study</text>
<text x="270.00" y="186.00" font-family='"Liberation Serif", serif' font-size="5.5" font-weight="bold" text-anchor="middle" fill="#000" opacity="1" transform="rotate(-90 270.00 186.00)" textLength="42" lengthAdjust="spacingAndGlyphs">% Reticulocytes</text>
<line x1="289.2" x2="307.2" y1="146.1" y2="146.1" stroke="#000" stroke-width="1.9"/>
<polyline fill="none" stroke="#000" stroke-width="0.68" points="288.32,212.92 322.04,213.64 361.38,220.83"/>
<rect x="287.24" y="211.84" width="2.16" height="2.16" fill="#000"/>
<rect x="320.96" y="212.56" width="2.16" height="2.16" fill="#000"/>
<rect x="360.30" y="219.75" width="2.16" height="2.16" fill="#000"/>
<polyline fill="none" stroke="#000" stroke-width="0.68" points="288.32,215.80 305.18,217.95 316.42,214.72 322.04,215.08 327.66,217.95 333.28,215.08 338.90,214.36"/>
<circle cx="288.32" cy="215.80" r="1.02" fill="#000"/>
<circle cx="305.18" cy="217.95" r="1.02" fill="#000"/>
<circle cx="316.42" cy="214.72" r="1.02" fill="#000"/>
<circle cx="322.04" cy="215.08" r="1.02" fill="#000"/>
<circle cx="327.66" cy="217.95" r="1.02" fill="#000"/>
<circle cx="333.28" cy="215.08" r="1.02" fill="#000"/>
<circle cx="338.90" cy="214.36" r="1.02" fill="#000"/>
<polyline fill="none" stroke="#000" stroke-width="0.68" points="288.32,216.51 322.04,218.31 361.38,216.16"/>
<circle cx="288.32" cy="216.51" r="0.90" fill="#fff" stroke="#000" stroke-width="0.4"/>
<circle cx="322.04" cy="218.31" r="0.90" fill="#fff" stroke="#000" stroke-width="0.4"/>
<circle cx="361.38" cy="216.16" r="0.90" fill="#fff" stroke="#000" stroke-width="0.4"/>
<polyline fill="none" stroke="#000" stroke-width="0.68" points="288.32,220.11 322.04,222.63 361.38,222.63"/>
<rect x="287.24" y="219.03" width="2.16" height="2.16" fill="#000"/>
<rect x="320.96" y="221.55" width="2.16" height="2.16" fill="#000"/>
<rect x="360.30" y="221.55" width="2.16" height="2.16" fill="#000"/>
</g>
<defs><filter id="bl" x="0" y="0" width="520" height="246" filterUnits="userSpaceOnUse"><feGaussianBlur stdDeviation="0.35"/></filter></defs>
</svg></body></html>
